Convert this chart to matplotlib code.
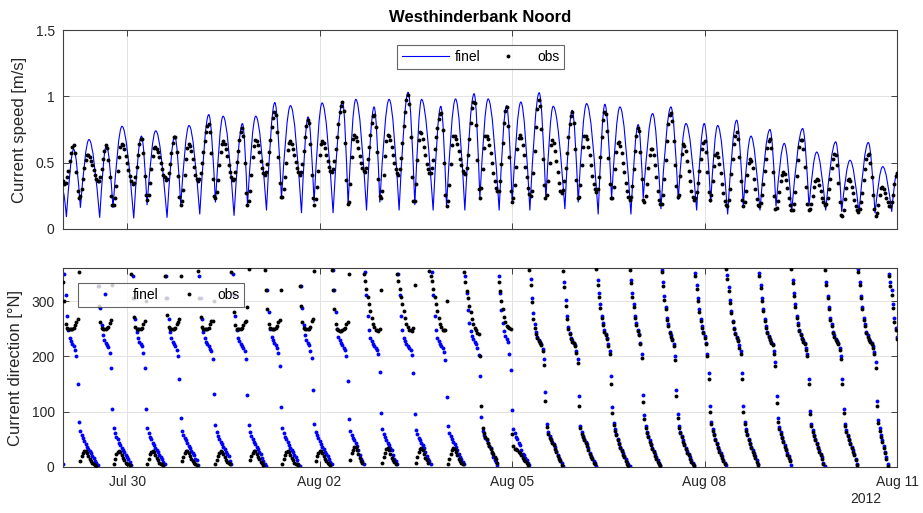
import numpy as np
import matplotlib
matplotlib.use("Agg")
import matplotlib.pyplot as plt
import matplotlib.dates as mdates
from matplotlib.path import Path
from matplotlib.patches import PathPatch
from matplotlib.lines import Line2D
from datetime import datetime

plt.rcParams['font.family'] = ['Liberation Sans', 'DejaVu Sans']

# ---------------- data (hours after 2012-07-29 00:00) ----------------
title = "Westhinderbank Noord"
series_names = ["finel", "obs"]
tick_dates = [datetime(2012, 7, 30), datetime(2012, 8, 2), datetime(2012, 8, 5),
              datetime(2012, 8, 8), datetime(2012, 8, 11)]

# model speed: successive extremes (time [h], speed [m/s])
fin_spd_t = [0, 1.27, 4.00, 6.51, 9.73, 13.73, 16.24, 18.71, 22.08, 26.46, 29.34, 31.44, 34.69,
             38.92, 41.80, 44.05, 47.15, 51.16, 54.53, 57.03, 59.88, 63.99, 67.14, 69.01, 72.12,
             76.12, 79.23, 81.73, 85.10, 89.22, 91.69, 93.93, 96.93, 101.04, 104.56, 106.66, 109.54,
             113.55, 116.39, 118.52, 122.00, 125.74, 129.11, 131.62, 134.13, 138.47, 141.35, 143.48,
             146.85, 150.33, 153.81, 155.95, 159.05, 163.17, 165.94, 168.04, 171.29, 174.66, 178.14,
             180.65, 183.38, 187.76, 190.49, 192.74, 195.88, 200.22, 202.73, 205.23, 208.34, 212.46,
             215.19, 217.06, 220.58, 223.69, 227.43, 230.16, 233.04, 237.05, 239.89, 242.29, 244.91,
             248.65, 252.02, 254.49, 257.37, 260.74, 264.48, 266.73, 269.83, 272.60, 276.72, 279.07,
             281.96, 285.32, 289.07, 291.31, 294.42, 297.79, 301.27, 303.78, 306.66, 310.03, 312]
fin_spd = [0.28, 0.09, 0.60, 0.16, 0.674, 0.085, 0.63, 0.16, 0.774, 0.08, 0.70, 0.18, 0.74, 0.085,
           0.70, 0.18, 0.78, 0.11, 0.862, 0.20, 0.85, 0.10, 0.795, 0.18, 0.85, 0.14, 0.953, 0.23,
           0.93, 0.12, 0.845, 0.20, 0.95, 0.12, 0.962, 0.18, 0.977, 0.14, 0.92, 0.20, 0.977, 0.14,
           1.03, 0.18, 0.977, 0.14, 0.925, 0.17, 0.98, 0.14, 1.02, 0.23, 0.98, 0.14, 0.93, 0.20,
           0.957, 0.14, 1.027, 0.22, 0.925, 0.15, 0.895, 0.20, 0.945, 0.11, 0.94, 0.23, 0.92, 0.11,
           0.787, 0.23, 0.87, 0.15, 0.92, 0.22, 0.795, 0.14, 0.795, 0.20, 0.78, 0.11, 0.82, 0.17,
           0.70, 0.14, 0.75, 0.17, 0.645, 0.13, 0.757, 0.17, 0.58, 0.14, 0.657, 0.13, 0.518, 0.12,
           0.652, 0.12, 0.47, 0.13, 0.42]

# observed speed, on the hour (hour 0 .. 312)
obs_spd = [0.36, 0.35, 0.44, 0.575, 0.63, 0.43, 0.23, 0.30, 0.46, 0.56,
           0.54, 0.48, 0.41, 0.365, 0.39, 0.525, 0.63, 0.52, 0.25, 0.18,
           0.325, 0.54, 0.64, 0.60, 0.50, 0.40, 0.34, 0.39, 0.56, 0.68,
           0.57, 0.26, 0.26, 0.45, 0.61, 0.605, 0.54, 0.45, 0.39, 0.38,
           0.49, 0.65, 0.69, 0.40, 0.18, 0.295, 0.525, 0.64, 0.585, 0.47,
           0.375, 0.38, 0.495, 0.66, 0.78, 0.73, 0.38, 0.235, 0.37, 0.58,
           0.66, 0.60, 0.48, 0.39, 0.38, 0.505, 0.67, 0.76, 0.50, 0.18,
           0.29, 0.54, 0.67, 0.63, 0.51, 0.42, 0.43, 0.58, 0.77, 0.88,
           0.73, 0.35, 0.24, 0.39, 0.595, 0.66, 0.60, 0.505, 0.43, 0.43,
           0.59, 0.78, 0.80, 0.41, 0.18, 0.32, 0.56, 0.66, 0.61, 0.51,
           0.44, 0.455, 0.60, 0.79, 0.93, 0.89, 0.37, 0.20, 0.54, 0.71,
           0.66, 0.55, 0.46, 0.43, 0.525, 0.71, 0.85, 0.77, 0.38, 0.23,
           0.41, 0.66, 0.70, 0.62, 0.50, 0.42, 0.45, 0.645, 0.885, 1.01,
           0.69, 0.21, 0.34, 0.67, 0.72, 0.62, 0.49, 0.42, 0.46, 0.60,
           0.765, 0.87, 0.745, 0.26, 0.21, 0.49, 0.70, 0.68, 0.59, 0.48,
           0.42, 0.46, 0.68, 0.91, 0.95, 0.52, 0.23, 0.455, 0.70, 0.68,
           0.57, 0.42, 0.31, 0.29, 0.49, 0.80, 0.92, 0.54, 0.20, 0.33,
           0.60, 0.71, 0.63, 0.47, 0.31, 0.25, 0.42, 0.77, 0.97, 0.755,
           0.33, 0.26, 0.50, 0.67, 0.59, 0.43, 0.29, 0.295, 0.46, 0.69,
           0.855, 0.80, 0.37, 0.24, 0.48, 0.70, 0.68, 0.555, 0.40, 0.30,
           0.305, 0.54, 0.82, 0.87, 0.535, 0.23, 0.32, 0.58, 0.655, 0.57,
           0.43, 0.285, 0.22, 0.325, 0.59, 0.765, 0.58, 0.22, 0.245, 0.46,
           0.60, 0.56, 0.39, 0.22, 0.19, 0.38, 0.66, 0.86, 0.815, 0.48,
           0.24, 0.40, 0.64, 0.585, 0.44, 0.29, 0.22, 0.28, 0.44, 0.60,
           0.66, 0.43, 0.22, 0.36, 0.555, 0.54, 0.42, 0.27, 0.18, 0.22,
           0.415, 0.64, 0.73, 0.54, 0.22, 0.20, 0.405, 0.53, 0.46, 0.30,
           0.18, 0.195, 0.34, 0.53, 0.66, 0.61, 0.25, 0.16, 0.28, 0.41,
           0.415, 0.31, 0.18, 0.145, 0.28, 0.52, 0.67, 0.60, 0.32, 0.14,
           0.19, 0.32, 0.38, 0.335, 0.235, 0.18, 0.23, 0.38, 0.525, 0.56,
           0.345, 0.105, 0.14, 0.31, 0.38, 0.32, 0.22, 0.14, 0.15, 0.275,
           0.455, 0.56, 0.50, 0.255, 0.10, 0.18, 0.31, 0.30, 0.23, 0.175,
           0.20, 0.34, 0.42]

# observed speed, on the half hour (hour 0.5 .. 311.5)
obs_spd_half = [0.34, 0.39, 0.51, 0.615, 0.57, 0.29, 0.25, 0.38, 0.52, 0.56,
                0.515, 0.445, 0.38, 0.36, 0.45, 0.59, 0.61, 0.39, 0.18, 0.235,
                0.44, 0.615, 0.63, 0.55, 0.445, 0.36, 0.35, 0.47, 0.64, 0.68,
                0.40, 0.22, 0.35, 0.55, 0.62, 0.58, 0.495, 0.41, 0.37, 0.42,
                0.575, 0.69, 0.58, 0.24, 0.21, 0.41, 0.61, 0.625, 0.53, 0.41,
                0.36, 0.425, 0.58, 0.73, 0.795, 0.575, 0.25, 0.28, 0.48, 0.64,
                0.64, 0.55, 0.43, 0.37, 0.43, 0.59, 0.73, 0.70, 0.27, 0.21,
                0.41, 0.625, 0.66, 0.58, 0.46, 0.41, 0.49, 0.67, 0.84, 0.86,
                0.54, 0.24, 0.30, 0.50, 0.65, 0.64, 0.555, 0.46, 0.41, 0.49,
                0.69, 0.82, 0.64, 0.23, 0.225, 0.44, 0.64, 0.645, 0.56, 0.465,
                0.43, 0.515, 0.695, 0.88, 0.96, 0.65, 0.19, 0.34, 0.68, 0.69,
                0.61, 0.50, 0.44, 0.46, 0.62, 0.80, 0.86, 0.58, 0.245, 0.29,
                0.55, 0.71, 0.67, 0.56, 0.45, 0.41, 0.535, 0.775, 0.97, 0.94,
                0.395, 0.21, 0.52, 0.73, 0.68, 0.555, 0.45, 0.425, 0.52, 0.69,
                0.83, 0.875, 0.50, 0.17, 0.33, 0.63, 0.70, 0.64, 0.53, 0.44,
                0.415, 0.555, 0.80, 0.96, 0.785, 0.30, 0.31, 0.61, 0.70, 0.63,
                0.495, 0.36, 0.29, 0.36, 0.65, 0.89, 0.78, 0.29, 0.235, 0.47,
                0.685, 0.685, 0.56, 0.39, 0.265, 0.29, 0.59, 0.905, 0.925, 0.53,
                0.23, 0.365, 0.63, 0.65, 0.515, 0.35, 0.27, 0.36, 0.575, 0.79,
                0.88, 0.60, 0.235, 0.33, 0.62, 0.70, 0.62, 0.48, 0.34, 0.28,
                0.395, 0.69, 0.88, 0.735, 0.34, 0.235, 0.45, 0.65, 0.625, 0.50,
                0.35, 0.24, 0.24, 0.45, 0.70, 0.74, 0.38, 0.20, 0.34, 0.555,
                0.60, 0.48, 0.29, 0.185, 0.26, 0.52, 0.79, 0.875, 0.665, 0.325,
                0.26, 0.565, 0.625, 0.515, 0.36, 0.24, 0.23, 0.35, 0.53, 0.65,
                0.58, 0.28, 0.26, 0.475, 0.57, 0.49, 0.34, 0.21, 0.175, 0.30,
                0.53, 0.70, 0.68, 0.36, 0.17, 0.29, 0.50, 0.51, 0.38, 0.225,
                0.17, 0.26, 0.435, 0.61, 0.68, 0.43, 0.15, 0.21, 0.36, 0.43,
                0.37, 0.235, 0.145, 0.19, 0.40, 0.615, 0.67, 0.47, 0.19, 0.15,
                0.25, 0.36, 0.37, 0.285, 0.20, 0.19, 0.305, 0.46, 0.565, 0.48,
                0.20, 0.095, 0.225, 0.37, 0.36, 0.27, 0.17, 0.13, 0.20, 0.37,
                0.525, 0.565, 0.39, 0.15, 0.12, 0.255, 0.32, 0.27, 0.20, 0.17,
                0.26, 0.40]

# model direction [deg N], on the hour (hour 0 .. 312)
fin_dir = [5, 312, 247, 228, 219, 200, 82, 57, 47, 37, 29, 20, 11, 3,
           288, 239, 225, 217, 180, 70, 54, 44, 35, 27, 18, 9,
           345, 268, 233, 222, 206, 105, 61, 50, 40, 31, 22, 14, 5,
           305, 244, 227, 218, 200, 88, 58, 48, 38, 29, 21, 12,
           345, 268, 233, 222, 214, 196, 76, 56, 46, 36, 28, 19, 6,
           312, 247, 228, 219, 210, 130, 63, 51, 41, 32, 24, 10, 2,
           280, 236, 224, 216, 182, 71, 54, 45, 35, 27, 18, 6,
           328, 256, 230, 221, 197, 78, 57, 47, 37, 28, 20, 9, 356,
           280, 236, 224, 216, 200, 87, 58, 48, 38, 22, 10,
           352, 274, 234, 223, 215, 204, 98, 60, 49, 39, 30, 15, 6,
           312, 247, 228, 219, 211, 170, 67, 53, 43, 34, 19, 10,
           352, 274, 234, 223, 215, 193, 74, 56, 46, 36, 23, 14, 5,
           315, 261, 237, 227, 215, 165, 66, 53, 43, 34, 18, 9,
           345, 284, 246, 231, 205, 103, 61, 50, 40, 24, 17, 8,
           340, 279, 244, 230, 222, 196, 77, 56, 46, 36, 21, 12, 2,
           302, 254, 234, 225, 210, 128, 63, 51, 41, 25, 16, 7,
           339, 294, 260, 240, 222, 165, 80, 59, 43, 31, 20, 9, 2,
           315, 274, 248, 225, 130, 74, 56, 41, 29, 18, 7, 357,
           310, 270, 245, 232, 200, 95, 64, 48, 35, 23, 12, 4,
           330, 286, 255, 237, 205, 111, 68, 51, 37, 25, 13, 3,
           325, 282, 252, 236, 220, 170, 81, 60, 44, 31, 20, 5,
           330, 286, 255, 237, 227, 210, 128, 72, 55, 40, 25, 13,
           339, 294, 260, 240, 229, 215, 160, 78, 58, 43, 30, 18, 2,
           310, 270, 245, 232, 224, 200, 105, 67, 51, 36, 24, 6,
           335, 290, 258, 238, 228, 218, 190, 85, 58, 38, 18,
           350, 320, 270, 235]

# model direction [deg N], on the half hour (hour 0.5 .. 311.5)
fin_dir_half = [350, 274, 234, 223, 212, 150, 65, 52, 42, 33, 25, 16, 7,
                328, 256, 230, 221, 207, 105, 61, 50, 40, 31, 22, 14, 4,
                305, 244, 227, 218, 180, 70, 54, 44, 35, 27, 18, 9,
                345, 268, 233, 222, 211, 160, 66, 53, 43, 34, 25, 15, 4,
                305, 244, 227, 218, 210, 132, 63, 51, 41, 32, 24, 11, 350,
                274, 234, 223, 215, 196, 76, 56, 46, 36, 28, 16, 6,
                320, 250, 229, 220, 207, 108, 61, 50, 40, 31, 22, 12, 2,
                288, 239, 225, 210, 140, 64, 52, 42, 33, 24, 15, 6,
                320, 250, 229, 220, 211, 155, 66, 53, 43, 30, 15, 5,
                312, 247, 228, 219, 211, 172, 68, 54, 44, 34, 22, 10, 350,
                274, 234, 223, 215, 203, 95, 59, 49, 39, 27, 14, 5,
                312, 247, 228, 219, 208, 127, 62, 51, 41, 30, 18, 9,
                345, 284, 246, 231, 222, 202, 90, 58, 48, 38, 26, 13, 4,
                315, 261, 237, 227, 175, 69, 54, 44, 31, 21, 12, 3,
                305, 258, 236, 226, 214, 135, 64, 51, 41, 29, 16, 7,
                334, 273, 242, 229, 220, 196, 75, 56, 46, 34, 20, 11, 2,
                315, 274, 248, 233, 210, 108, 68, 51, 37, 25, 14, 5,
                339, 294, 260, 240, 205, 94, 64, 48, 35, 23, 12, 4,
                335, 290, 258, 238, 222, 140, 74, 56, 41, 29, 18, 8,
                351, 306, 268, 244, 225, 170, 81, 60, 44, 31, 20, 8,
                347, 302, 265, 242, 230, 210, 111, 68, 51, 37, 25, 12,
                351, 306, 268, 244, 231, 222, 190, 89, 63, 47, 33, 19, 3,
                315, 274, 248, 233, 225, 205, 102, 67, 50, 36, 24, 8,
                335, 290, 258, 238, 228, 215, 160, 78, 58, 43, 30, 15, 358,
                310, 270, 245, 232, 224, 208, 120, 70, 48, 28, 5, 335, 295, 252]

# observed direction [deg N], on the hour (hour 0 .. 312)
obs_dir = [335, 258, 250, 249, 252, 262, 352, 19, 29, 25, 14, 7, 4, 327,
           262, 250, 249, 254, 266, 6, 23, 29, 22, 12, 6, 3,
           306, 254, 250, 250, 258, 300, 15, 28, 27, 16, 8, 5, 345,
           275, 250, 249, 252, 263, 345, 18, 29, 26, 14, 7, 4,
           306, 254, 250, 250, 258, 265, 5, 20, 29, 24, 13, 7, 352,
           280, 250, 249, 251, 262, 290, 12, 26, 29, 18, 9, 4, 320,
           258, 250, 249, 255, 266, 6, 22, 29, 22, 12, 6, 3,
           292, 252, 250, 250, 264, 355, 19, 29, 25, 14, 7, 4, 320,
           258, 248, 246, 250, 258, 350, 25, 36, 30, 16, 7,
           337, 307, 282, 258, 248, 246, 320, 18, 33, 30, 17, 9, 350,
           322, 295, 270, 253, 247, 252, 8, 27, 34, 24, 12, 355,
           337, 307, 282, 258, 248, 248, 5, 24, 34, 27, 14, 7, 352,
           319, 292, 267, 251, 243, 200, 70, 55, 44, 33, 24, 14,
           335, 300, 272, 255, 252, 60, 33, 30, 25, 16, 10, 4,
           330, 268, 240, 228, 220, 185, 72, 52, 44, 33, 20, 10, 355,
           292, 250, 232, 224, 206, 110, 60, 49, 38, 23, 14, 5,
           330, 287, 256, 238, 218, 150, 76, 57, 41, 29, 18, 6, 356,
           308, 270, 246, 222, 118, 70, 54, 39, 27, 15, 5, 352,
           303, 266, 242, 230, 194, 88, 61, 46, 33, 21, 9, 2,
           322, 280, 252, 234, 200, 100, 65, 49, 35, 22, 11, 358,
           318, 278, 249, 234, 216, 160, 77, 58, 42, 28, 17, 3,
           324, 282, 252, 235, 225, 205, 115, 68, 53, 37, 22, 10,
           333, 290, 257, 238, 227, 212, 150, 74, 56, 41, 27, 14, 356,
           305, 266, 243, 230, 222, 195, 98, 64, 49, 34, 21, 4,
           330, 285, 255, 236, 226, 215, 180, 80, 55, 35, 15,
           345, 312, 262, 232]

# observed direction [deg N], on the half hour (hour 0.5 .. 311.5)
obs_dir_half = [300, 252, 249, 250, 256, 267, 11, 25, 29, 20, 10, 5, 2,
                292, 251, 249, 251, 260, 330, 15, 28, 27, 16, 8, 5, 350,
                272, 250, 249, 251, 265, 5, 23, 29, 22, 12, 6, 3,
                306, 254, 250, 249, 258, 267, 10, 25, 29, 20, 11, 6, 355,
                272, 250, 249, 251, 264, 300, 12, 26, 28, 18, 9, 5, 315,
                256, 250, 249, 256, 265, 358, 20, 29, 24, 14, 7, 356,
                285, 251, 249, 251, 262, 320, 15, 28, 27, 16, 8, 5, 327,
                262, 250, 249, 254, 268, 11, 26, 29, 19, 10, 5, 357,
                285, 250, 246, 247, 252, 262, 12, 30, 36, 24, 11, 349,
                322, 295, 270, 253, 247, 250, 8, 26, 34, 24, 12, 6, 337,
                307, 282, 258, 248, 246, 330, 18, 33, 30, 17, 8, 345,
                322, 295, 270, 253, 247, 300, 14, 30, 32, 21, 10, 5,
                335, 305, 280, 258, 247, 240, 110, 62, 50, 38, 28, 18, 8,
                318, 285, 263, 253, 250, 38, 32, 28, 21, 13, 7, 356,
                298, 252, 233, 224, 210, 120, 60, 49, 39, 27, 14, 4,
                326, 268, 240, 227, 218, 188, 70, 54, 44, 31, 18, 8, 358,
                308, 270, 245, 231, 205, 98, 65, 49, 35, 22, 11, 2,
                332, 290, 257, 238, 198, 86, 61, 46, 33, 20, 9, 1,
                328, 285, 255, 236, 218, 128, 70, 54, 39, 26, 15, 5,
                345, 300, 264, 242, 222, 160, 77, 58, 42, 28, 17, 5,
                340, 297, 262, 240, 228, 205, 100, 65, 49, 35, 22, 9,
                346, 300, 264, 242, 229, 220, 182, 82, 60, 45, 30, 16, 358,
                309, 270, 246, 231, 223, 200, 95, 64, 48, 34, 21, 5,
                330, 285, 255, 236, 226, 212, 150, 74, 56, 41, 27, 12, 352,
                305, 266, 243, 230, 222, 204, 110, 66, 46, 25, 2, 328, 288, 248]

# ---------------- plotting ----------------
t0 = mdates.date2num(datetime(2012, 7, 29))
t_end = mdates.date2num(datetime(2012, 8, 11))


def to_num(hours):
    return t0 + np.asarray(hours, dtype=float) / 24.0


def both(on_hour, on_half):
    h = np.concatenate([np.arange(len(on_hour)), np.arange(len(on_half)) + 0.5])
    v = np.concatenate([np.asarray(on_hour, float), np.asarray(on_half, float)])
    order = np.argsort(h)
    return to_num(h[order]), v[order]


W, H = 923, 513
fig = plt.figure(figsize=(W / 100, H / 100), dpi=100)
L, R = 63, 897
ax1 = fig.add_axes([L / W, 1 - 229 / H, (R - L) / W, 199 / H])
ax2 = fig.add_axes([L / W, 1 - 467 / H, (R - L) / W, 199 / H])

fin_col = (0, 0, 1)
obs_col = 'black'
spine_col = '#404040'
ms = 2.8

# smooth model speed curve through the extremes (cubic Bezier segments)
xs = to_num(fin_spd_t)
ys = np.asarray(fin_spd)
verts = [(xs[0], ys[0])]
codes = [Path.MOVETO]
for i in range(len(xs) - 1):
    xa, ya, xb, yb = xs[i], ys[i], xs[i + 1], ys[i + 1]
    dx = xb - xa
    if yb > ya:   # rising from slack
        c1 = (xa + dx / 3, ya + 0.5 * (yb - ya))
        c2 = (xa + 2 * dx / 3, yb)
    else:         # falling to slack
        c1 = (xa + dx / 3, ya)
        c2 = (xa + 2 * dx / 3, yb + 0.5 * (ya - yb))
    verts += [c1, c2, (xb, yb)]
    codes += [Path.CURVE4] * 3
ax1.add_patch(PathPatch(Path(verts, codes), fill=False, edgecolor=fin_col, lw=0.8, zorder=2))
x_os, y_os = both(obs_spd, obs_spd_half)
ax1.plot(x_os, y_os, 'o', color=obs_col, ms=ms, mew=0, zorder=3)

x_fd, y_fd = both(fin_dir, fin_dir_half)
x_od, y_od = both(obs_dir, obs_dir_half)
ax2.plot(x_fd, y_fd, 'o', color=fin_col, ms=ms, mew=0, zorder=2)
ax2.plot(x_od, y_od, 'o', color=obs_col, ms=ms, mew=0, zorder=3)

for ax in (ax1, ax2):
    ax.set_xlim(t0, t_end)
    ax.set_xticks(mdates.date2num(tick_dates))
    ax.xaxis.set_major_formatter(mdates.DateFormatter('%b %d'))
    ax.grid(True, color='#e3e3e3', lw=0.7)
    ax.set_axisbelow(True)
    ax.tick_params(direction='in', length=4, width=0.6, top=True, right=True,
                   labelsize=10, colors='#262626', pad=6)
    for s in ax.spines.values():
        s.set_color(spine_col)
        s.set_linewidth(0.8)

ax1.set_ylim(0, 1.5)
ax1.set_yticks([0, 0.5, 1, 1.5])
ax1.set_yticklabels(['0', '0.5', '1', '1.5'])
ax1.tick_params(labelbottom=False)
ax2.set_ylim(0, 360)
ax2.set_yticks([0, 100, 200, 300])

ax1.set_title(title, fontsize=12, fontweight='bold', pad=6, color='black')
ax1.set_ylabel('Current speed [m/s]', fontsize=12, color='#262626', labelpad=6)
ax2.set_ylabel('Current direction [°N]', fontsize=12, color='#262626', labelpad=6)

h_line = Line2D([], [], color=fin_col, lw=0.8)
h_obs = Line2D([], [], ls='none', marker='o', ms=ms, mew=0, color=obs_col)
leg1 = ax1.legend([h_line, h_obs], series_names, ncol=2, loc='upper center',
                  bbox_to_anchor=(0.5006, 0.925), frameon=True, fancybox=False,
                  edgecolor=spine_col, fontsize=10, handlelength=3.4, handletextpad=0.4,
                  columnspacing=0.3, borderpad=0.35, borderaxespad=0)
leg1.get_frame().set_linewidth(0.8)

h_fdot = Line2D([], [], ls='none', marker='o', ms=ms, mew=0, color=fin_col)
leg2 = ax2.legend([h_fdot, h_obs], series_names, ncol=2, loc='upper left',
                  bbox_to_anchor=(0.018, 0.925), frameon=True, fancybox=False,
                  edgecolor=spine_col, fontsize=10, handlelength=3.2, handletextpad=0.4,
                  columnspacing=0.6, borderpad=0.35, borderaxespad=0)
leg2.get_frame().set_linewidth(0.8)

fig.text(866 / W, 1 - 499 / H, '2012', ha='center', va='center', fontsize=10, color='#262626')

fig.savefig('out.png', dpi=100)
